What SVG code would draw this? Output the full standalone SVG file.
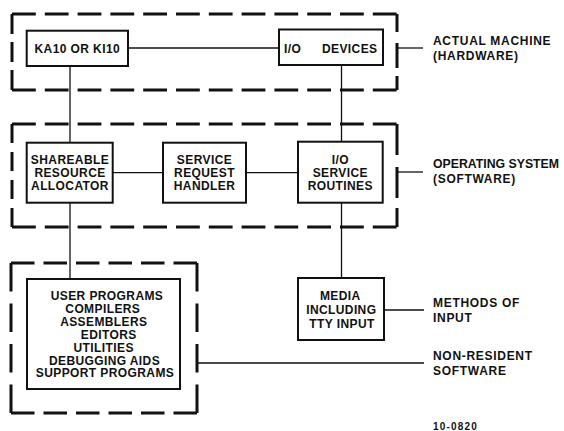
<svg xmlns="http://www.w3.org/2000/svg" width="564" height="431" viewBox="0 0 564 431">
<style>
  .bg { fill: #ffffff; }
  .dash { fill: none; stroke: #111; stroke-width: 3; stroke-linecap: butt; }
  .box { fill: #ffffff; stroke: #111; stroke-width: 2; }
  .conn { fill: none; stroke: #111; stroke-width: 1.3; }
  text { font-family: "Liberation Sans", Arial, Helvetica, sans-serif; font-weight: bold; font-size: 12px; fill: #111; letter-spacing: 0.4px; }
  .mid { text-anchor: middle; }
  .lbl { letter-spacing: 0.7px; }
  .tight { letter-spacing: 0px; }
  .small { font-size: 10px; letter-spacing: 1.2px; }
</style>
<rect class="bg" x="0" y="0" width="564" height="431"/>

<g id="group-hardware">
  <path class="dash" d="M12 14 H397" stroke-dasharray="23.8 9"/>
  <path class="dash" d="M12 90 H397" stroke-dasharray="23.8 9"/>
  <path class="dash" d="M12 14 V90" stroke-dasharray="20 8"/>
  <path class="dash" d="M397 14 V90" stroke-dasharray="18 11 25 8"/>
</g>
<g id="group-os">
  <path class="dash" d="M12 124 H397" stroke-dasharray="23.8 9"/>
  <path class="dash" d="M12 227 H397" stroke-dasharray="23.8 9"/>
  <path class="dash" d="M12 124 V227" stroke-dasharray="19 9"/>
  <path class="dash" d="M397 124 V227" stroke-dasharray="31 12 31 10 19"/>
</g>
<g id="group-nonresident">
  <path class="dash" d="M11 263 H197" stroke-dasharray="23.5 9"/>
  <path class="dash" d="M11 413 H197" stroke-dasharray="23.5 9"/>
  <path class="dash" d="M11 263 V413" stroke-dasharray="28.5 12"/>
  <path class="dash" d="M197 263 V413" stroke-dasharray="28.5 12"/>
</g>

<g id="connectors">
  <line class="conn" x1="128" y1="48" x2="279" y2="48"/>
  <line class="conn" x1="70" y1="66" x2="70" y2="143"/>
  <line class="conn" x1="341.5" y1="65" x2="341.5" y2="142"/>
  <line class="conn" x1="112.7" y1="172.7" x2="163" y2="172.7"/>
  <line class="conn" x1="246" y1="172.7" x2="298" y2="172.7"/>
  <line class="conn" x1="70" y1="202.7" x2="70" y2="279"/>
  <line class="conn" x1="341.5" y1="202.7" x2="341.5" y2="278"/>
  <line class="conn" x1="384" y1="310" x2="424" y2="310"/>
  <line class="conn" x1="398" y1="48" x2="423" y2="48"/>
  <line class="conn" x1="398" y1="172" x2="423" y2="172"/>
  <line class="conn" x1="197" y1="363" x2="424" y2="363"/>
</g>

<g id="node-ka10">
  <rect class="box" x="26.7" y="30.7" width="101.3" height="35.3"/>
  <text class="mid" x="77.3" y="53.3">KA10 OR KI10</text>
</g>
<g id="node-io-devices">
  <rect class="box" x="279" y="29.5" width="104" height="35.5"/>
  <text x="284" y="53.3">I/O</text>
  <text x="322" y="53.3">DEVICES</text>
</g>
<g id="node-shareable">
  <rect class="box" x="26.7" y="142.7" width="86" height="60"/>
  <text class="mid" x="70" y="164">SHAREABLE</text>
  <text class="mid" x="70" y="177">RESOURCE</text>
  <text class="mid" x="70" y="190">ALLOCATOR</text>
</g>
<g id="node-service-request">
  <rect class="box" x="163" y="142.7" width="83" height="60"/>
  <text class="mid" x="204.5" y="164">SERVICE</text>
  <text class="mid" x="204.5" y="177">REQUEST</text>
  <text class="mid" x="204.5" y="190">HANDLER</text>
</g>
<g id="node-io-service">
  <rect class="box" x="298" y="141.7" width="84.7" height="61"/>
  <text class="mid" x="340.3" y="164">I/O</text>
  <text class="mid" x="340.3" y="177">SERVICE</text>
  <text class="mid" x="340.3" y="190">ROUTINES</text>
</g>
<g id="node-user-programs">
  <rect class="box" x="27" y="279" width="153" height="110"/>
  <text class="mid" x="107" y="300">USER PROGRAMS</text>
  <text class="mid" x="102.8" y="313">COMPILERS</text>
  <text class="mid" x="103.8" y="326">ASSEMBLERS</text>
  <text class="mid" x="108.7" y="338.7">EDITORS</text>
  <text class="mid" x="103.7" y="351.6">UTILITIES</text>
  <text class="mid" x="104.5" y="364.5">DEBUGGING AIDS</text>
  <text class="mid" x="105" y="377.4">SUPPORT PROGRAMS</text>
</g>
<g id="node-media">
  <rect class="box" x="298" y="278" width="86" height="62"/>
  <text class="mid" x="340.3" y="300">MEDIA</text>
  <text class="mid" x="341.3" y="314">INCLUDING</text>
  <text class="mid" x="342" y="328">TTY INPUT</text>
</g>

<g id="label-hardware">
  <text class="lbl" x="433" y="45">ACTUAL MACHINE</text>
  <text class="lbl" x="433" y="60">(HARDWARE)</text>
</g>
<g id="label-os">
  <text class="tight" x="433" y="168.3" textLength="126" lengthAdjust="spacingAndGlyphs">OPERATING SYSTEM</text>
  <text class="lbl" x="433" y="183.3">(SOFTWARE)</text>
</g>
<g id="label-input">
  <text class="lbl" x="433" y="306.5">METHODS OF</text>
  <text class="lbl" x="433" y="321.5">INPUT</text>
</g>
<g id="label-nonresident">
  <text class="lbl" x="433" y="359.5">NON-RESIDENT</text>
  <text class="lbl" x="433" y="374.5">SOFTWARE</text>
</g>
<g id="figure-number">
  <text class="small" x="433" y="430">10-0820</text>
</g>
</svg>
